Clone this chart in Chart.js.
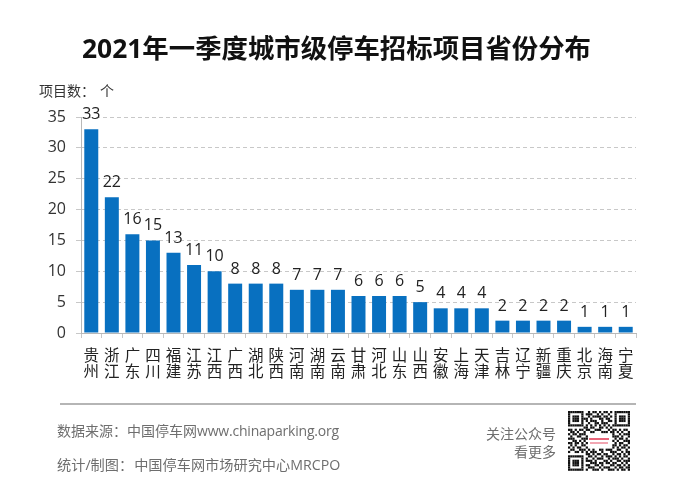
<!DOCTYPE html>
<html>
<head>
<meta charset="utf-8">
<script src="https://cdn.jsdelivr.net/npm/chart.js@4"></script>
<style>
  html,body{margin:0;padding:0;background:#fff}
  body{width:673px;height:496px;position:relative;overflow:hidden;font-family:"Open Sans","Noto Sans CJK SC",sans-serif}
  #wrap{position:absolute;left:0;top:0;width:673px;height:496px}
  .t{position:absolute;white-space:nowrap}
  #title{left:0;width:673px;top:30px;text-align:center;font-size:26.4px;line-height:36px;font-weight:700;color:#111}
  #unit{left:39px;top:82px;font-size:14px;line-height:18px;color:#333}
  #unit span{margin-left:5px}
  #rule{position:absolute;left:60px;top:403px;width:576px;height:1.5px;background:#b5b5b5}
  .foot{line-height:20px;color:#6e6e6e}
  #src{left:57px;top:421px;font-size:14px}
  #src span{letter-spacing:-.2px}
  #by{left:57px;top:455px;font-size:14.2px}
  #by span{margin-left:1px}
  #follow{left:470px;top:425px;width:86px;text-align:right;font-size:14px;line-height:18px;color:#6e6e6e;white-space:normal}
  #qr{position:absolute;left:568px;top:411px}
</style>
</head>
<body>
<div id="wrap"><canvas id="c" width="673" height="496"></canvas></div>
<div class="t" id="title">2021年一季度城市级停车招标项目省份分布</div>
<div class="t" id="unit">项目数：<span>个</span></div>
<div id="rule"></div>
<div class="t foot" id="src">数据来源：中国停车网<span>www.chinaparking.org</span></div>
<div class="t foot" id="by">统计/制图：<span>中国停车网市场研究中心MRCPO</span></div>
<div class="t" id="follow">关注公众号<br>看更多</div>
<canvas id="qr" width="62" height="62"></canvas>
<script>
const provinces = ['贵州','浙江','广东','四川','福建','江苏','江西','广西','湖北','陕西','河南','湖南','云南','甘肃','河北','山东','山西','安徽','上海','天津','吉林','辽宁','新疆','重庆','北京','海南','宁夏'];
const projects = [33,22,16,15,13,11,10,8,8,8,7,7,7,6,6,6,5,4,4,4,2,2,2,2,1,1,1];
const yTicks = [0,5,10,15,20,25,30,35];

/* ── QR PICTURE ── */
const qrRows = [
  '1111111001011010110101111111',
  '1000001011100101001001000001',
  '1011101001011110110101011101',
  '1011101110100011011001011101',
  '1011101010111001001101011101',
  '1000001001001101110001000001',
  '1111111010101010101011111111',
  '0000000110110011010100000000',
  '1101011011001110001011010110',
  '0110100100110001110110101001',
  '1011011100000000000010010111',
  '0100110010000000000011101001',
  '1110001110000000000001011010',
  '0011010100000000000010100111',
  '1101101010000000000001011001',
  '0101001100000000000011010110',
  '1010110010000000000010101101',
  '0110011101010011011100110010',
  '1001101010111001000111001011',
  '0000000011010110110010110101',
  '1111111001101001011101010110',
  '1000001010010111001011101001',
  '1011101011101000110100110111',
  '1011101000111011011011001010',
  '1011101011001101000110110101',
  '1000001001110010111001011011',
  '1111111010011101001110101101',
  '0000000000000000000000000000'
];
const qr = document.getElementById('qr').getContext('2d');
const mod = 62/28;
qr.fillStyle = '#111';
qrRows.forEach((row,r)=>{
  row.split('').forEach((bit,c)=>{
    if(bit==='1') qr.fillRect(c*mod, r*mod, mod, mod);
  });
});
qr.fillStyle = '#e9657a';
qr.fillRect(21,27,20,2);
qr.fillStyle = '#f2a6b2';
qr.fillRect(22,31,18,2);

/* ── VALUE LABELS ── */
const valueLabels = {
  id:'valueLabels',
  afterDatasetsDraw(chart){
    const {ctx} = chart;
    ctx.save();
    ctx.font = '16px "Open Sans","Noto Sans CJK SC",sans-serif';
    ctx.fillStyle = '#222';
    ctx.textAlign = 'center';
    ctx.textBaseline = 'alphabetic';
    chart.getDatasetMeta(0).data.forEach((bar,i)=>{
      ctx.fillText(projects[i], bar.x, bar.y - 10);
    });
    ctx.restore();
  }
};

/* ── CHART ── */
Chart.defaults.font.family = '"Open Sans","Noto Sans CJK SC",sans-serif';
new Chart(document.getElementById('c'),{
  type:'bar',
  data:{
    labels:provinces.map(p=>p.split('')),
    datasets:[{data:projects,backgroundColor:'#0870c0',borderWidth:0,barPercentage:.68,categoryPercentage:1}]
  },
  options:{
    responsive:false,
    animation:false,
    layout:{padding:{left:0,right:37,top:117,bottom:113}},
    plugins:{legend:{display:false},tooltip:{enabled:false}},
    scales:{
      x:{
        afterFit(scale){ scale.height = 50; },
        grid:{drawOnChartArea:false,color:'#c8c8c8',tickLength:5},
        border:{color:'#b8b8b8'},
        ticks:{color:'#222',font:{size:15.5,lineHeight:1},maxRotation:0,autoSkip:false,padding:11}
      },
      y:{
        min:0,max:35,
        afterBuildTicks(scale){ scale.ticks = yTicks.map(v=>({value:v})); },
        grid:{color:'#c8c8c8',tickLength:5,lineWidth:1},
        border:{color:'#b8b8b8',dash:[4,3]},
        afterFit(scale){ scale.width = 81; },
        ticks:{color:'#333',font:{size:16},padding:10}
      }
    }
  },
  plugins:[valueLabels]
});
</script>
</body>
</html>
